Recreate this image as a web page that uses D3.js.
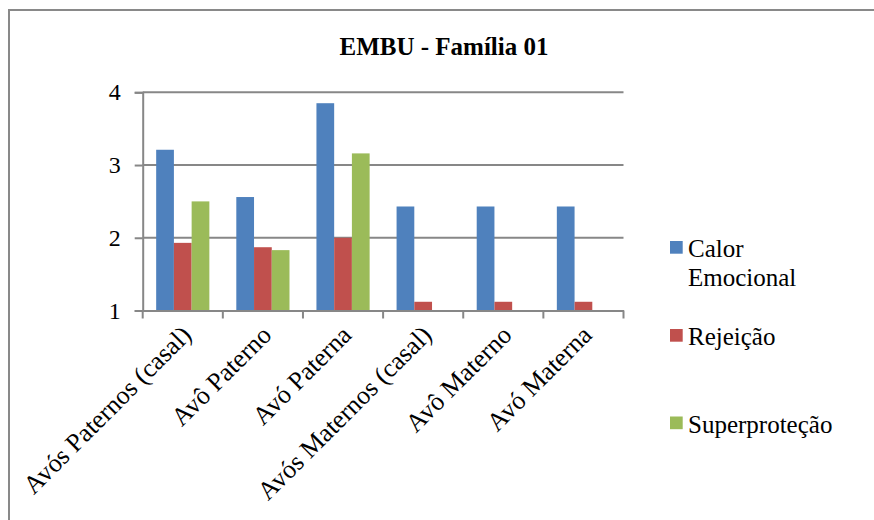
<!DOCTYPE html>
<html><head><meta charset="utf-8">
<script src="https://cdn.jsdelivr.net/npm/d3@7/dist/d3.min.js"></script></head>
<body style="margin:0">
<svg id="chart" width="874" height="520"></svg>
<script>
// EMBU scores per grandparent figure, family 01
const categories = ["Avós Paternos (casal)", "Avô Paterno", "Avó Paterna", "Avós Maternos (casal)", "Avô Materno", "Avó Materna"];
const seriesNames = ["Calor Emocional", "Rejeição", "Superproteção"];
const calorEmocional = [3.21, 2.56, 3.85, 2.43, 2.43, 2.43];
const rejeicao = [1.93, 1.87, 2.00, 1.12, 1.12, 1.12];
const superprotecao = [2.50, 1.83, 3.16, null, null, null];
const yTicks = [1, 2, 3, 4];
const colors = ["#4F81BD", "#C0504D", "#9BBB59"];

const FONT = "'Liberation Serif'";
const seriesValues = [calorEmocional, rejeicao, superprotecao];
const svg = d3.select("#chart");
const gridColor = "#878787";

// outer frame of the chart
svg.append("rect")
  .attr("x", 9).attr("y", 10)
  .attr("width", 1000).attr("height", 700)
  .attr("fill", "none").attr("stroke", "#898989").attr("stroke-width", 2);

const plotLeft = 142.7, plotRight = 623.5, plotTop = 92.3, plotBottom = 310.5;

const y = d3.scaleLinear().domain([1, 4]).range([plotBottom, plotTop]);
const x0 = d3.scaleBand().domain(categories).range([plotLeft, plotRight]).padding(0);
const x1 = d3.scaleBand().domain(seriesNames).range([0, x0.bandwidth()])
  .paddingInner(0).paddingOuter(0.76);

// horizontal gridlines
svg.append("g").selectAll("line")
  .data(yTicks.filter(d => d > 1))
  .join("line")
  .attr("x1", plotLeft).attr("x2", plotRight)
  .attr("y1", d => y(d)).attr("y2", d => y(d))
  .attr("stroke", gridColor).attr("stroke-width", 2);

// value axis (line + ticks from the axis generator, labels drawn separately)
const yAxis = d3.axisLeft(y).tickValues(yTicks).tickSize(8).tickFormat("");
const gy = svg.append("g").attr("transform", `translate(${plotLeft},0)`).call(yAxis);
gy.select(".domain").attr("stroke", gridColor).attr("stroke-width", 2);
gy.selectAll(".tick line").attr("stroke", gridColor).attr("stroke-width", 2);

// bars
const rows = categories.map((c, i) => ({
  cat: c,
  vals: seriesNames.map((s, j) => ({ s, j, v: seriesValues[j][i] }))
}));

svg.append("g").selectAll("g")
  .data(rows)
  .join("g")
  .attr("transform", d => `translate(${x0(d.cat)},0)`)
  .selectAll("rect")
  .data(d => d.vals.filter(e => e.v != null))
  .join("rect")
  .attr("x", e => x1(e.s))
  .attr("width", x1.bandwidth())
  .attr("y", e => y(e.v))
  .attr("height", e => Math.max(0, y(1) - y(e.v)))
  .attr("fill", e => colors[e.j]);

// category axis
const xAxis = d3.axisBottom(x0).tickSize(0).tickFormat("");
const gx = svg.append("g").attr("transform", `translate(0,${plotBottom})`).call(xAxis);
gx.select(".domain").attr("stroke", gridColor).attr("stroke-width", 2);
const bounds = [plotLeft].concat(categories.map(c => x0(c) + x0.bandwidth()));
gx.selectAll(".sep")
  .data(bounds)
  .join("line")
  .attr("class", "sep")
  .attr("x1", d => d).attr("x2", d => d)
  .attr("y1", 0).attr("y2", 8)
  .attr("stroke", gridColor).attr("stroke-width", 2);

// all text in one top-level group
const txt = svg.append("g");

txt.append("text")
  .attr("x", 444).attr("y", 55)
  .attr("text-anchor", "middle")
  .attr("font-weight", "bold")
  .attr("font-size", 25)
  .style("font-family", FONT)
  .text("EMBU - Família 01");

txt.selectAll(".ylab")
  .data(yTicks)
  .join("text")
  .attr("class", "ylab")
  .attr("x", plotLeft - 22).attr("y", d => y(d) + 8)
  .attr("text-anchor", "end")
  .attr("font-size", 24)
  .style("font-family", FONT)
  .text(d => d3.format("d")(d));

txt.selectAll(".xlab")
  .data(categories)
  .join("text")
  .attr("class", "xlab")
  .attr("transform", d => `translate(${x0(d) + x0.bandwidth() / 2 + 10},${plotBottom + 26}) rotate(-45)`)
  .attr("text-anchor", "end")
  .attr("font-size", 26)
  .style("font-family", FONT)
  .text(d => d);

// legend
const legendItems = [
  { lines: ["Calor", "Emocional"], y: 257 },
  { lines: ["Rejeição"], y: 345 },
  { lines: ["Superproteção"], y: 432.5 }
];
legendItems.forEach((item, i) => {
  svg.append("rect")
    .attr("x", 670).attr("y", item.y - 16)
    .attr("width", 12.7).attr("height", 12.7)
    .attr("fill", colors[i]);
  item.lines.forEach((ln, k) => {
    txt.append("text")
      .attr("x", 688).attr("y", item.y + k * 28.5)
      .attr("font-size", 25)
      .style("font-family", FONT)
      .text(ln);
  });
});
</script></body></html>
